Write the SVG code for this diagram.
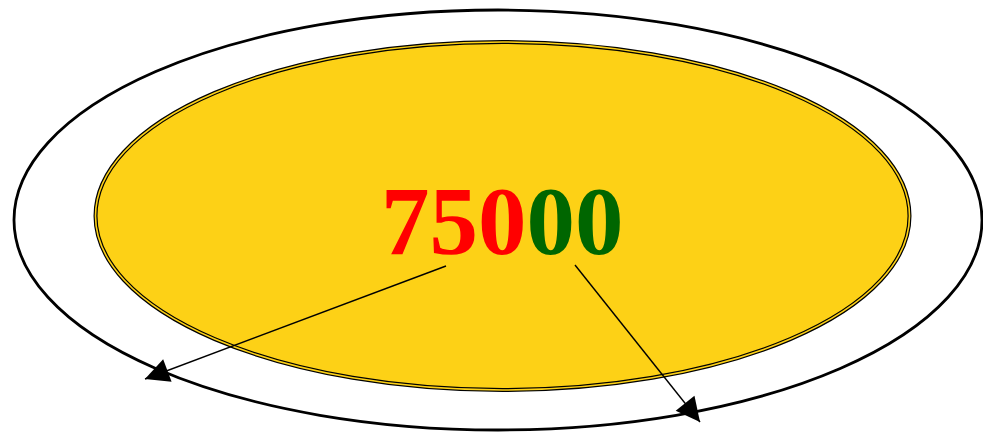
<svg xmlns="http://www.w3.org/2000/svg" width="983" height="432" viewBox="0 0 983 432">
<defs>
<marker id="ah" viewBox="0 0 10 10" refX="10" refY="5" markerWidth="10" markerHeight="10" markerUnits="userSpaceOnUse" orient="auto" overflow="visible">
<path d="M0,0 L10,5 L0,10 z" fill="#000" transform="scale(2.4) translate(-5.8,-2.9)"/>
</marker>
<style>
.num{font-family:"Liberation Serif","Times New Roman",serif;font-weight:bold;font-size:97px}
.conn line{stroke:#000;stroke-width:1.4}
</style>
</defs>
<rect width="983" height="432" fill="#fff"/>
<g id="outer"><ellipse cx="498" cy="220" rx="484" ry="210" fill="none" stroke="#000" stroke-width="2.8"/></g>
<g id="inner">
<ellipse cx="502.5" cy="216" rx="407" ry="174" fill="#FDD116" stroke="#000" stroke-width="4"/>
<ellipse cx="502.5" cy="216" rx="407" ry="174" fill="none" stroke="#FDD116" stroke-width="1.6"/>
<text class="num" x="381" y="254"><tspan fill="#FF0000">750</tspan><tspan fill="#006600">00</tspan></text>
</g>
<g class="conn" id="connectors">
<line x1="446" y1="266" x2="145" y2="379" marker-end="url(#ah)"/>
<line x1="575" y1="265" x2="700" y2="422" marker-end="url(#ah)"/>
</g>
</svg>
